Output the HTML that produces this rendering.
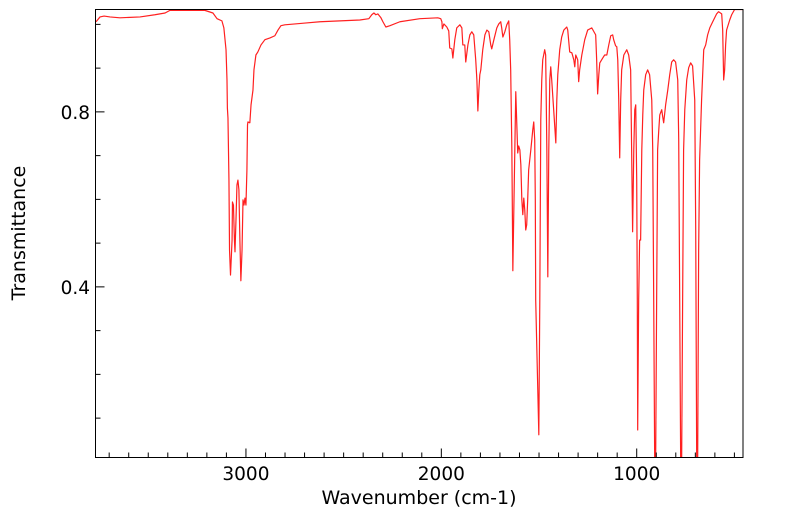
<!DOCTYPE html>
<html><head><meta charset="utf-8"><style>
body{margin:0;background:#fff;}
svg{display:block;font-family:"DejaVu Sans","Liberation Sans",sans-serif;}
</style></head><body>
<svg id="chart" width="799" height="516" xmlns="http://www.w3.org/2000/svg">
<rect x="0" y="0" width="799" height="516" fill="#fff"/>
<g id="plot"></g>
<text x="0" y="0" transform="translate(25,233) rotate(-90)" text-anchor="middle" font-size="19">Transmittance</text>
<text x="419" y="504" text-anchor="middle" font-size="19">Wavenumber (cm-1)</text>
</svg>
<script>
const wavenumbers = [3767,3747,3726,3696,3645,3542,3466,3414,3389,3210,3169,3148,3123,3113,3102,3097,3095,3092,3087,3084,3079,3071,3069,3064,3059,3056,3051,3046,3041,3036,3031,3026,3020,3015,3010,3005,3000,2995,2992,2990,2980,2974,2964,2959,2949,2939,2923,2903,2877,2852,2836,2821,2801,2749,2698,2621,2519,2417,2371,2356,2345,2335,2325,2309,2299,2284,2263,2212,2110,2018,2003,1997,1995,1987,1972,1962,1957,1946,1941,1931,1921,1905,1895,1890,1880,1875,1864,1854,1844,1834,1824,1818,1813,1808,1803,1798,1788,1777,1767,1757,1747,1742,1731,1716,1706,1696,1691,1685,1675,1665,1655,1650,1645,1639,1634,1619,1609,1604,1598,1593,1588,1583,1578,1573,1568,1563,1558,1553,1542,1532,1527,1522,1519,1517,1501,1496,1491,1486,1481,1471,1466,1463,1460,1455,1450,1445,1440,1435,1425,1414,1409,1404,1394,1384,1373,1358,1353,1343,1332,1322,1317,1312,1302,1297,1292,1281,1266,1251,1230,1210,1205,1200,1194,1189,1174,1164,1153,1143,1133,1123,1118,1108,1102,1097,1092,1087,1082,1077,1066,1051,1041,1031,1026,1021,1015,1010,1005,1000,997,995,990,985,980,974,969,964,954,944,934,923,918,913,908,903,898,893,887,882,872,867,862,852,841,831,821,811,801,790,785,780,775,770,765,760,754,744,734,724,714,703,698,693,688,683,678,668,657,647,637,626,611,591,581,565,560,555,550,545,540,524,514,499,458];
const transmittance = [1.006,1.017,1.019,1.017,1.015,1.017,1.022,1.026,1.032,1.032,1.026,1.013,1.008,0.992,0.942,0.873,0.809,0.786,0.644,0.484,0.427,0.507,0.594,0.587,0.507,0.480,0.553,0.633,0.644,0.622,0.507,0.414,0.484,0.599,0.587,0.603,0.587,0.667,0.770,0.777,0.775,0.816,0.850,0.896,0.930,0.937,0.953,0.965,0.969,0.974,0.987,0.997,0.999,1.001,1.003,1.006,1.008,1.010,1.013,1.022,1.026,1.022,1.024,1.015,1.006,0.994,0.997,1.006,1.013,1.015,1.013,1.006,0.990,1.001,0.994,0.985,0.946,0.944,0.923,0.965,0.992,0.999,0.992,0.953,0.953,0.914,0.953,0.976,0.983,0.976,0.919,0.873,0.802,0.850,0.885,0.896,0.942,0.976,0.987,0.983,0.953,0.944,0.965,0.992,1.001,1.006,0.992,0.971,0.983,0.999,1.008,0.965,0.896,0.713,0.437,0.846,0.706,0.722,0.713,0.679,0.599,0.565,0.603,0.576,0.530,0.542,0.599,0.667,0.713,0.759,0.777,0.736,0.599,0.370,0.062,0.370,0.782,0.873,0.919,0.942,0.930,0.827,0.713,0.423,0.713,0.873,0.903,0.873,0.805,0.729,0.827,0.885,0.942,0.971,0.987,0.994,0.987,0.937,0.935,0.919,0.903,0.930,0.919,0.869,0.896,0.930,0.965,0.987,0.992,0.976,0.919,0.841,0.885,0.912,0.923,0.930,0.930,0.953,0.974,0.976,0.965,0.951,0.949,0.919,0.827,0.695,0.827,0.896,0.930,0.942,0.930,0.896,0.713,0.526,0.713,0.805,0.816,0.644,0.370,0.073,0.370,0.507,0.507,0.713,0.793,0.850,0.885,0.896,0.885,0.827,0.713,0.370,0.000,0.000,0.370,0.713,0.759,0.793,0.805,0.789,0.775,0.816,0.850,0.885,0.914,0.919,0.914,0.873,0.736,0.370,0.000,0.000,0.370,0.713,0.805,0.873,0.901,0.912,0.905,0.827,0.530,0.000,0.000,0.484,0.690,0.827,0.942,0.953,0.976,0.992,1.006,1.024,1.029,1.024,0.987,0.873,0.896,0.953,0.987,1.010,1.022,1.034,1.034];
const xTickMajor = [1000,2000,3000];
const xTickLabels = ["1000","2000","3000"];
const yTickMajor = [0.4,0.8];
const yTickLabels = ["0.4","0.8"];
const xDomain = [3770,456];
const yDomain = [0.010,1.034];

const L=95.5,R=743,T=9.5,B=457.5;
const NS='http://www.w3.org/2000/svg';
function xs(v){return L+(xDomain[0]-v)/(xDomain[0]-xDomain[1])*(R-L);}
function ys(v){return B-(v-yDomain[0])/(yDomain[1]-yDomain[0])*(B-T);}
const plot=document.getElementById('plot');
function mk(tag,attrs){const e=document.createElementNS(NS,tag);for(const k in attrs)e.setAttribute(k,attrs[k]);return e;}

const clip=mk('clipPath',{id:'pc'});
clip.appendChild(mk('rect',{x:L,y:T,width:R-L,height:B-T}));
const defs=mk('defs',{});defs.appendChild(clip);plot.appendChild(defs);

let d='';
for(let i=0;i<wavenumbers.length;i++){d+=(i?'L':'M')+xs(wavenumbers[i]).toFixed(2)+','+ys(transmittance[i]).toFixed(2);}
const line=mk('path',{d:d,fill:'none',stroke:'#ff2020','stroke-width':'1.2','clip-path':'url(#pc)','stroke-linejoin':'round'});


plot.appendChild(line);

const frame=mk('rect',{x:L,y:T,width:R-L,height:B-T,fill:'none',stroke:'#000','stroke-width':'1'});


plot.appendChild(frame);

for(let w=500;w<=3700;w+=100){
  const x=xs(w);const major=w%1000===0;
  const t=mk('line',{x1:x,x2:x,y1:B,y2:B-(major?9:5),stroke:'#000','stroke-width':'1'});
  
  
  plot.appendChild(t);
}
xTickMajor.forEach((v,i)=>{
  const t=mk('text',{x:xs(v),y:480,'text-anchor':'middle','font-size':'18.5'});
  t.textContent=xTickLabels[i];
  
  
  plot.appendChild(t);
});
for(let k=1;k<=10;k++){
  const v=k/10;if(v>yDomain[1])break;
  const y=ys(v);const major=(k===4||k===8);
  const t=mk('line',{x1:L,x2:L+(major?9:5),y1:y,y2:y,stroke:'#000','stroke-width':'1'});
  
  
  plot.appendChild(t);
}
yTickMajor.forEach((v,i)=>{
  const t=mk('text',{x:90,y:ys(v)+7,'text-anchor':'end','font-size':'18.5'});
  t.textContent=yTickLabels[i];
  
  
  plot.appendChild(t);
});
</script>
</body></html>
